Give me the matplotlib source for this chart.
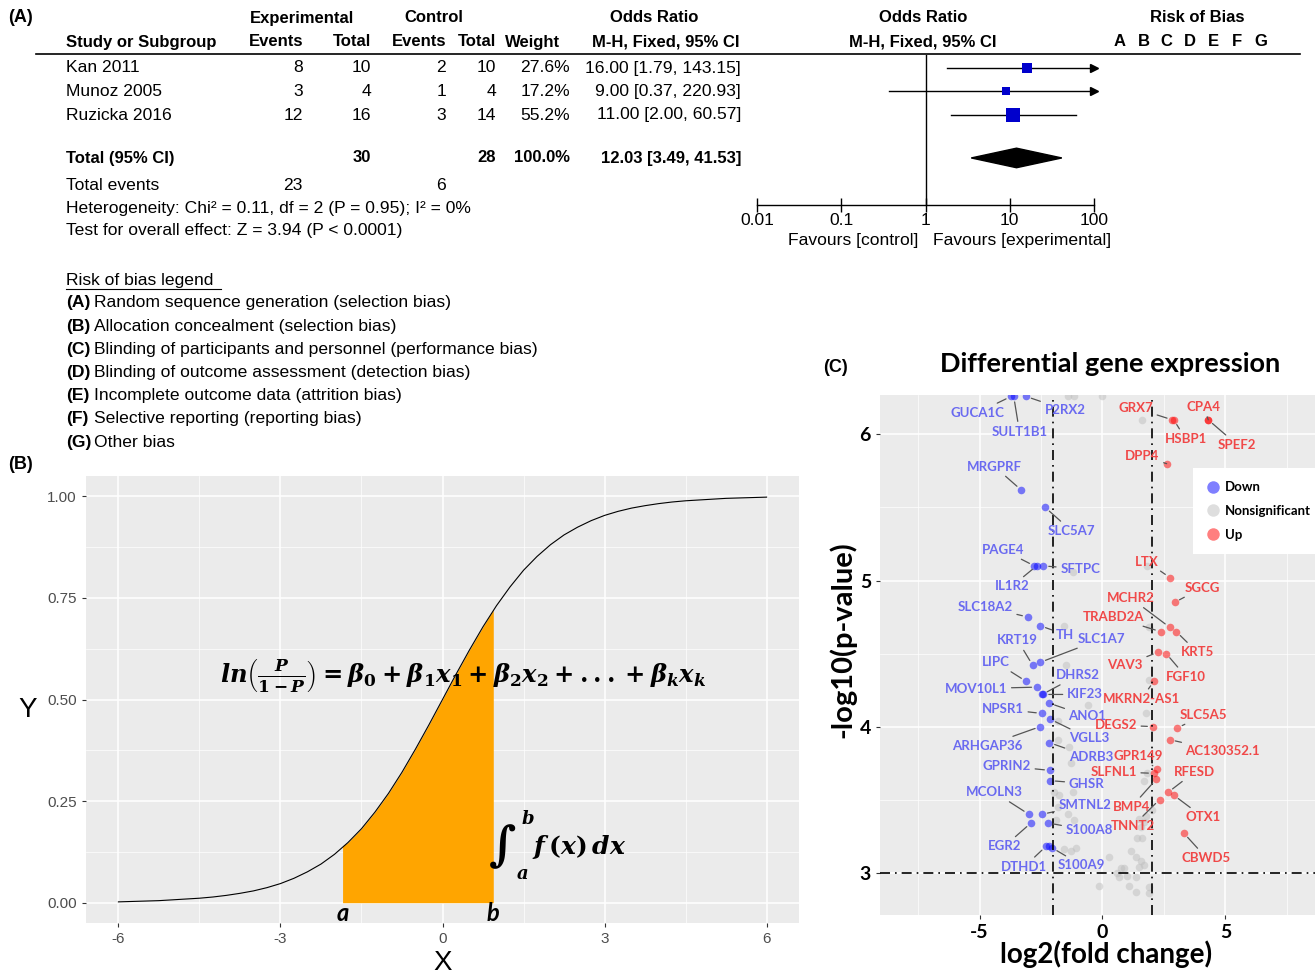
import numpy as np
import matplotlib.pyplot as plt
from matplotlib.lines import Line2D
from matplotlib.patches import Polygon

W, H = 1315, 976

# (A) forest plot data
studies = ['Kan 2011', 'Munoz 2005', 'Ruzicka 2016']
exp_events = [8, 3, 12]
exp_total = [10, 4, 16]
ctl_events = [2, 1, 3]
ctl_total = [10, 4, 14]
weights = [27.6, 17.2, 55.2]
or_est = [16.00, 9.00, 11.00]
ci_low = [1.79, 0.37, 2.00]
ci_high = [143.15, 220.93, 60.57]
total_or = 12.03
total_ci = [3.49, 41.53]
total_n = [30, 28]
total_events = [23, 6]
or_ticks = [0.01, 0.1, 1, 10, 100]
or_tick_labels = ['0.01', '0.1', '1', '10', '100']
rob_letters = ['A', 'B', 'C', 'D', 'E', 'F', 'G']
rob_text = ['Random sequence generation (selection bias)',
            'Allocation concealment (selection bias)',
            'Blinding of participants and personnel (performance bias)',
            'Blinding of outcome assessment (detection bias)',
            'Incomplete outcome data (attrition bias)',
            'Selective reporting (reporting bias)',
            'Other bias']

# (B) logistic curve
curve_x = np.arange(-6, 6.01, 0.25)
curve_y = [0.002, 0.003, 0.004, 0.005, 0.007, 0.009, 0.011, 0.014, 0.018, 0.023,
           0.029, 0.037, 0.047, 0.060, 0.076, 0.095, 0.119, 0.148, 0.182, 0.223,
           0.269, 0.321, 0.378, 0.438, 0.500, 0.562, 0.622, 0.679, 0.731, 0.777,
           0.818, 0.852, 0.881, 0.905, 0.924, 0.940, 0.953, 0.963, 0.971, 0.977,
           0.982, 0.986, 0.989, 0.991, 0.993, 0.995, 0.996, 0.997, 0.998]
a_x, a_y = -1.85, 0.14
b_x, b_y = 0.94, 0.72

# (C) volcano plot
down_genes = ['GUCA1C', 'SULT1B1', 'P2RX2', 'MRGPRF', 'SLC5A7', 'PAGE4', 'IL1R2', 'SFTPC',
              'SLC18A2', 'TH', 'KRT19', 'SLC1A7', 'LIPC', 'MOV10L1', 'DHRS2', 'KIF23',
              'ANO1', 'NPSR1', 'VGLL3', 'ARHGAP36', 'ADRB3', 'GPRIN2', 'GHSR', 'MCOLN3',
              'SMTNL2', 'EGR2', 'S100A8', 'DTHD1', '', 'S100A9']
down_fc = [-3.72, -3.61, -3.11, -3.31, -2.33, -2.77, -2.68, -2.41,
           -3.04, -2.53, -2.84, -2.53, -3.11, -2.66, -2.45, -2.41,
           -2.16, -2.47, -2.12, -2.53, -2.16, -2.14, -2.14, -3.00,
           -2.46, -2.91, -2.23, -2.30, -2.16, -2.05]
down_p = [6.26, 6.26, 6.26, 5.62, 5.50, 5.10, 5.10, 5.10,
          4.75, 4.69, 4.42, 4.44, 4.31, 4.27, 4.22, 4.22,
          4.16, 4.09, 4.05, 4.00, 3.89, 3.70, 3.63, 3.40,
          3.40, 3.34, 3.34, 3.18, 3.18, 3.17]
up_genes = ['GRX7', 'HSBP1', 'CPA4', 'SPEF2', 'DPP4', 'LTX', 'SGCG', 'MCHR2', 'TRABD2A',
            'KRT5', 'VAV3', 'FGF10', 'MKRN2-AS1', 'DEGS2', 'SLC5A5', 'AC130352.1',
            'GPR149', 'SLFNL1', 'BMP4', 'RFESD', 'OTX1', 'TNNT2', 'CBWD5']
up_fc = [2.84, 2.90, 4.30, 4.30, 2.61, 2.74, 2.93, 2.73, 2.36,
         3.00, 2.27, 2.59, 2.09, 2.05, 3.04, 2.74,
         2.23, 2.09, 2.19, 2.67, 2.90, 2.32, 3.31]
up_p = [6.10, 6.10, 6.10, 6.10, 5.80, 5.02, 4.85, 4.68, 4.65,
        4.65, 4.51, 4.50, 4.31, 4.00, 3.99, 3.91,
        3.71, 3.68, 3.64, 3.55, 3.53, 3.50, 3.27]
ns_fc = [-1.42, -1.15, 0.00, 1.59, 1.82, -1.22, -1.58, 1.89, -1.49, 1.89, 1.76, -0.61,
         -1.82, -1.82, -1.35, -1.28, 1.82, 1.69, -1.96, -1.76, -1.22, -1.82, -1.89,
         -1.42, -1.15, 2.03, 1.76, 1.48, 1.69, 1.55, 1.42, 1.62, -1.56, -1.28, -1.08,
         0.27, 1.15, 1.35, 1.55, 1.48, 1.69, 0.74, 0.88, -0.14, 1.01, 1.08, 1.35, 0.67,
         1.89, 1.89, 1.35, 0.61]
ns_p = [6.26, 6.26, 6.26, 6.10, 5.10, 5.06, 4.69, 4.68, 4.42, 4.32, 4.09, 4.15,
        4.04, 3.91, 3.86, 3.75, 3.68, 3.63, 3.55, 3.53, 3.55, 3.45, 3.36,
        3.40, 3.36, 3.43, 3.39, 3.37, 3.35, 3.31, 3.24, 3.24, 3.16, 3.15, 3.17,
        3.11, 3.15, 3.11, 3.08, 3.04, 3.05, 3.03, 3.03, 2.91, 2.98, 2.91, 2.87, 2.97,
        2.90, 2.86, 2.97, 3.00]
fc_cut = 2
p_cut = 3

# where the gene labels sit (repelled label positions)
label_pos = {
    'GUCA1C': (-5.07, 6.15), 'SULT1B1': (-3.38, 6.02), 'P2RX2': (-1.53, 6.17),
    'MRGPRF': (-4.39, 5.78), 'SLC5A7': (-1.26, 5.34), 'PAGE4': (-4.05, 5.21),
    'IL1R2': (-3.69, 4.96), 'SFTPC': (-0.91, 5.08), 'SLC18A2': (-4.77, 4.82),
    'TH': (-1.53, 4.63), 'KRT19': (-3.45, 4.59), 'SLC1A7': (-0.04, 4.60),
    'LIPC': (-4.33, 4.44), 'MOV10L1': (-5.14, 4.26), 'DHRS2': (-1.01, 4.35),
    'KIF23': (-0.72, 4.22), 'ANO1': (-0.61, 4.07), 'NPSR1': (-4.05, 4.12),
    'VGLL3': (-0.54, 3.92), 'ARHGAP36': (-4.70, 3.87), 'ADRB3': (-0.47, 3.79),
    'GPRIN2': (-3.89, 3.73), 'GHSR': (-0.65, 3.61), 'MCOLN3': (-4.39, 3.55),
    'SMTNL2': (-0.72, 3.46), 'EGR2': (-3.99, 3.18), 'S100A8': (-0.54, 3.29),
    'DTHD1': (-3.18, 3.04), 'S100A9': (-0.85, 3.05),
    'GRX7': (1.35, 6.18), 'HSBP1': (3.38, 5.97), 'CPA4': (4.12, 6.19),
    'SPEF2': (5.47, 5.93), 'DPP4': (1.62, 5.85), 'LTX': (1.80, 5.13),
    'SGCG': (4.05, 4.95), 'MCHR2': (1.15, 4.88), 'TRABD2A': (0.45, 4.75),
    'KRT5': (3.85, 4.51), 'VAV3': (0.92, 4.42), 'FGF10': (3.40, 4.34),
    'MKRN2-AS1': (1.58, 4.19), 'DEGS2': (0.54, 4.01), 'SLC5A5': (4.12, 4.08),
    'AC130352.1': (4.86, 3.83), 'GPR149': (1.46, 3.80), 'SLFNL1': (0.45, 3.69),
    'BMP4': (1.18, 3.45), 'RFESD': (3.75, 3.69), 'OTX1': (4.09, 3.38),
    'TNNT2': (1.24, 3.32), 'CBWD5': (4.23, 3.10),
}

plt.rcParams['mathtext.fontset'] = 'custom'
plt.rcParams['mathtext.it'] = 'DejaVu Serif:italic:bold'
plt.rcParams['mathtext.rm'] = 'DejaVu Serif:bold'
plt.rcParams['mathtext.bf'] = 'DejaVu Serif:bold'
plt.rcParams['axes.unicode_minus'] = False

fig = plt.figure(figsize=(W / 100, H / 100), dpi=100)

arial = ['Liberation Sans', 'DejaVu Sans']
calibri = ['Lato', 'DejaVu Sans']


def ftext(x, y, s, **kw):
    # text placed in pixel units of the reference
    kw.setdefault('va', 'center')
    kw.setdefault('family', arial)
    kw.setdefault('fontsize', 12.6)
    return fig.text(x / W, 1 - y / H, s, **kw)


# ---------------- (A) ----------------
bold = dict(fontweight='bold', fontsize=12)
ftext(8, 18, '(A)', fontsize=13, fontweight='bold')
ftext(302, 18, 'Experimental', ha='center', **bold)
ftext(434, 18, 'Control', ha='center', **bold)
ftext(654, 18, 'Odds Ratio', ha='center', **bold)
ftext(923, 18, 'Odds Ratio', ha='center', **bold)
ftext(1197, 18, 'Risk of Bias', ha='center', **bold)
ftext(66, 42, 'Study or Subgroup', **bold)
ftext(303, 42, 'Events', ha='right', **bold)
ftext(371, 42, 'Total', ha='right', **bold)
ftext(446, 42, 'Events', ha='right', **bold)
ftext(496, 42, 'Total', ha='right', **bold)
ftext(560, 42, 'Weight', ha='right', **bold)
ftext(740, 42, 'M-H, Fixed, 95% CI', ha='right', **bold)
ftext(923, 42, 'M-H, Fixed, 95% CI', ha='center', **bold)
for i, letter in enumerate(rob_letters):
    ftext(1120 + i * 23.4, 42, letter, ha='center', **bold)
fig.add_artist(Line2D([36 / W, 1300 / W], [1 - 54 / H, 1 - 54 / H], color='black', lw=1.2))

row_px = [68, 91, 115]
for i, name in enumerate(studies):
    y = row_px[i]
    ftext(66, y, name)
    ftext(303, y, str(exp_events[i]), ha='right')
    ftext(371, y, str(exp_total[i]), ha='right')
    ftext(446, y, str(ctl_events[i]), ha='right')
    ftext(496, y, str(ctl_total[i]), ha='right')
    ftext(570, y, f'{weights[i]:.1f}%', ha='right')
    ftext(741, y, f'{or_est[i]:.2f} [{ci_low[i]:.2f}, {ci_high[i]:.2f}]', ha='right')

ftext(66, 158, 'Total (95% CI)', **bold)
ftext(371, 158, str(total_n[0]), ha='right', **bold)
ftext(496, 158, str(total_n[1]), ha='right', **bold)
ftext(570, 158, f'{sum(weights):.1f}%', ha='right', **bold)
ftext(741, 158, f'{total_or:.2f} [{total_ci[0]:.2f}, {total_ci[1]:.2f}]', ha='right', **bold)
ftext(66, 185, 'Total events')
ftext(303, 185, str(total_events[0]), ha='right')
ftext(446, 185, str(total_events[1]), ha='right')
ftext(66, 208, 'Heterogeneity: Chi² = 0.11, df = 2 (P = 0.95); I² = 0%')
ftext(66, 231, 'Test for overall effect: Z = 3.94 (P < 0.0001)')

ftext(66, 280, 'Risk of bias legend')
fig.add_artist(Line2D([66 / W, 221 / W], [1 - 289 / H, 1 - 289 / H], color='black', lw=0.8))
for i, (letter, txt) in enumerate(zip(rob_letters, rob_text)):
    y = 303 + i * 23.2
    ftext(66, y, f'({letter})', fontweight='bold', fontsize=12.6)
    ftext(94, y, txt)

# forest plot axes, log x
axF = fig.add_axes([757 / W, 1 - 205 / H, (1094 - 757) / W, (205 - 55) / H])
axF.set_xscale('log')
axF.set_xlim(0.01, 100)
axF.set_ylim(6.88, 0.44)
rows = [1, 2, 3]
total_row = 4.86
for i in range(len(studies)):
    hi = min(ci_high[i], or_ticks[-1])
    axF.plot([ci_low[i], hi], [rows[i], rows[i]], color='black', lw=1)
    if ci_high[i] > or_ticks[-1]:
        axF.plot(hi, rows[i], marker='>', color='black', markersize=6, clip_on=False)
    axF.plot(or_est[i], rows[i], marker='s', color='#0000CC', markersize=1.37 * np.sqrt(weights[i]),
             markeredgewidth=0)
diamond = Polygon([[total_ci[0], total_row], [total_or, total_row - 0.42],
                   [total_ci[1], total_row], [total_or, total_row + 0.42]],
                  closed=True, color='black')
axF.add_patch(diamond)
axF.axvline(1, color='black', lw=1)
for s in ['top', 'right', 'left']:
    axF.spines[s].set_visible(False)
axF.spines['bottom'].set_linewidth(1)
axF.set_yticks([])
axF.set_xticks(or_ticks)
axF.set_xticklabels(or_tick_labels, family=arial, fontsize=12.6)
axF.xaxis.set_minor_locator(plt.NullLocator())
axF.tick_params(axis='x', direction='inout', length=10, width=1, pad=1)
axF.patch.set_alpha(0)
ftext(918, 240, 'Favours [control]', ha='right')
ftext(933, 240, 'Favours [experimental]', ha='left')

# ---------------- (B) ----------------
ftext(8, 465, '(B)', fontsize=13, fontweight='bold')
axB = fig.add_axes([86 / W, 1 - 923 / H, (799 - 86) / W, (923 - 476) / H])
axB.set_facecolor('#EBEBEB')
fill_x = [a_x] + [x for x in curve_x if a_x < x < b_x] + [b_x]
fill_y = [a_y] + [y for x, y in zip(curve_x, curve_y) if a_x < x < b_x] + [b_y]
axB.fill_between(fill_x, 0, fill_y, color='#FFA500', lw=0, zorder=2)
axB.plot(curve_x, curve_y, color='black', lw=0.8, zorder=3)
axB.set_xlim(-6.6, 6.6)
axB.set_ylim(-0.05, 1.05)
axB.set_xticks([-6, -3, 0, 3, 6])
axB.set_xticklabels(['-6', '-3', '0', '3', '6'])
axB.set_yticks([0, 0.25, 0.5, 0.75, 1.0])
axB.set_yticklabels(['0.00', '0.25', '0.50', '0.75', '1.00'])
axB.set_xticks([-4.5, -1.5, 1.5, 4.5], minor=True)
axB.set_yticks([0.125, 0.375, 0.625, 0.875], minor=True)
axB.grid(which='major', color='white', lw=1.1)
axB.grid(which='minor', color='white', lw=0.5)
axB.set_axisbelow(True)
for s in axB.spines.values():
    s.set_visible(False)
axB.tick_params(which='major', length=3, color='#333333', labelcolor='#4D4D4D', labelsize=11)
axB.tick_params(which='minor', length=0)
for lab in axB.get_xticklabels() + axB.get_yticklabels():
    lab.set_family(arial)
ftext(28, 710, 'Y', fontsize=20, ha='center')
ftext(443, 963, 'X', fontsize=20, ha='center')
axB.text(0.39, 0.56, r'$ln\left(\frac{P}{1-P}\right) = \beta_0 + \beta_1x_1 + \beta_2x_2 + ... + \beta_kx_k$',
         ha='center', va='center', fontsize=17.5, zorder=4)
axB.text(1.10, 0.138, r'$\int$', ha='center', va='center', fontsize=34, zorder=4)
axB.text(1.58, 0.205, r'$b$', ha='center', va='center', fontsize=13, zorder=4)
axB.text(1.48, 0.070, r'$a$', ha='center', va='center', fontsize=13, zorder=4)
axB.text(2.52, 0.138, r'$f\,(x)\,dx$', ha='center', va='center', fontsize=18, zorder=4)
axB.text(a_x, -0.027, 'a', ha='center', va='center', family=calibri, fontsize=17,
         fontweight='bold', style='italic', zorder=4)
axB.text(b_x, -0.027, 'b', ha='center', va='center', family=calibri, fontsize=17,
         fontweight='bold', style='italic', zorder=4)

# ---------------- (C) ----------------
ftext(823, 368, '(C)', fontsize=13, fontweight='bold')
ftext(1110, 364, 'Differential gene expression', family=calibri, fontsize=19.5,
      fontweight='bold', ha='center')
axC = fig.add_axes([880 / W, 1 - 915 / H, (1325 - 880) / W, (915 - 395) / H])
axC.set_facecolor('#EBEBEB')
axC.set_xlim(-9.05, 9.05)
axC.set_ylim(2.71, 6.27)
axC.set_xticks([-5, 0, 5])
axC.set_yticks([3, 4, 5, 6])
axC.set_xticks([-7.5, -2.5, 2.5, 7.5], minor=True)
axC.set_yticks([3.5, 4.5, 5.5], minor=True)
axC.grid(which='major', color='white', lw=1.1)
axC.grid(which='minor', color='white', lw=0.5)
axC.set_axisbelow(True)
for s in axC.spines.values():
    s.set_visible(False)
axC.tick_params(which='major', length=3, color='#333333', labelcolor='black', labelsize=14)
axC.tick_params(which='minor', length=0)
for lab in axC.get_xticklabels() + axC.get_yticklabels():
    lab.set_family(calibri)
    lab.set_fontweight('bold')

blue_c, red_c, grey_c = '#0000FF', '#FF0000', '#BEBEBE'
axC.scatter(ns_fc, ns_p, s=30, color=grey_c, alpha=0.5, lw=0, zorder=2)
axC.scatter(down_fc, down_p, s=30, color=blue_c, alpha=0.5, lw=0, zorder=2)
axC.scatter(up_fc, up_p, s=30, color=red_c, alpha=0.5, lw=0, zorder=2)
dash = (0, (6, 3, 1, 3))
axC.axvline(-fc_cut, color='black', lw=1.2, ls=dash, zorder=3)
axC.axvline(fc_cut, color='black', lw=1.2, ls=dash, zorder=3)
axC.axhline(p_cut, color='black', lw=1.2, ls=dash, zorder=3)

for genes, fcs, ps, col in [(down_genes, down_fc, down_p, '#6A6AF0'),
                            (up_genes, up_fc, up_p, '#F04848')]:
    for g, x, y in zip(genes, fcs, ps):
        if not g:
            continue
        lx, ly = label_pos[g]
        axC.annotate(g, xy=(x, y), xytext=(lx, ly), ha='center', va='center', color=col,
                     family=calibri, fontweight='bold', fontsize=9.5, zorder=4,
                     arrowprops=dict(arrowstyle='-', color='#555555', lw=0.9,
                                     shrinkA=1, shrinkB=4))

axC.set_xlabel('log2(fold change)', family=calibri, fontweight='bold', fontsize=20)
axC.set_ylabel('-log10(p-value)', family=calibri, fontweight='bold', fontsize=21)
axC.xaxis.set_label_coords((1106 - 880) / 445, -(940 - 915) / 520)
axC.yaxis.set_label_coords((856 - 880) / 445, (915 - 640) / 520)

handles = [Line2D([], [], ls='', marker='o', markersize=9, color=c, alpha=0.5, markeredgewidth=0)
           for c in [blue_c, grey_c, red_c]]
leg = axC.legend(handles, ['Down', 'Nonsignificant', 'Up'], loc='upper left',
                 bbox_to_anchor=(1193 / W, 1 - 468 / H), bbox_transform=fig.transFigure,
                 frameon=True, fancybox=False, framealpha=1, edgecolor='white',
                 prop={'family': calibri, 'weight': 'bold', 'size': 9.5},
                 labelspacing=0.9, handletextpad=0.3, borderpad=1.0, borderaxespad=0,
                 handlelength=1.1)
leg.get_frame().set_linewidth(0)

fig.savefig('out.png', dpi=100)
